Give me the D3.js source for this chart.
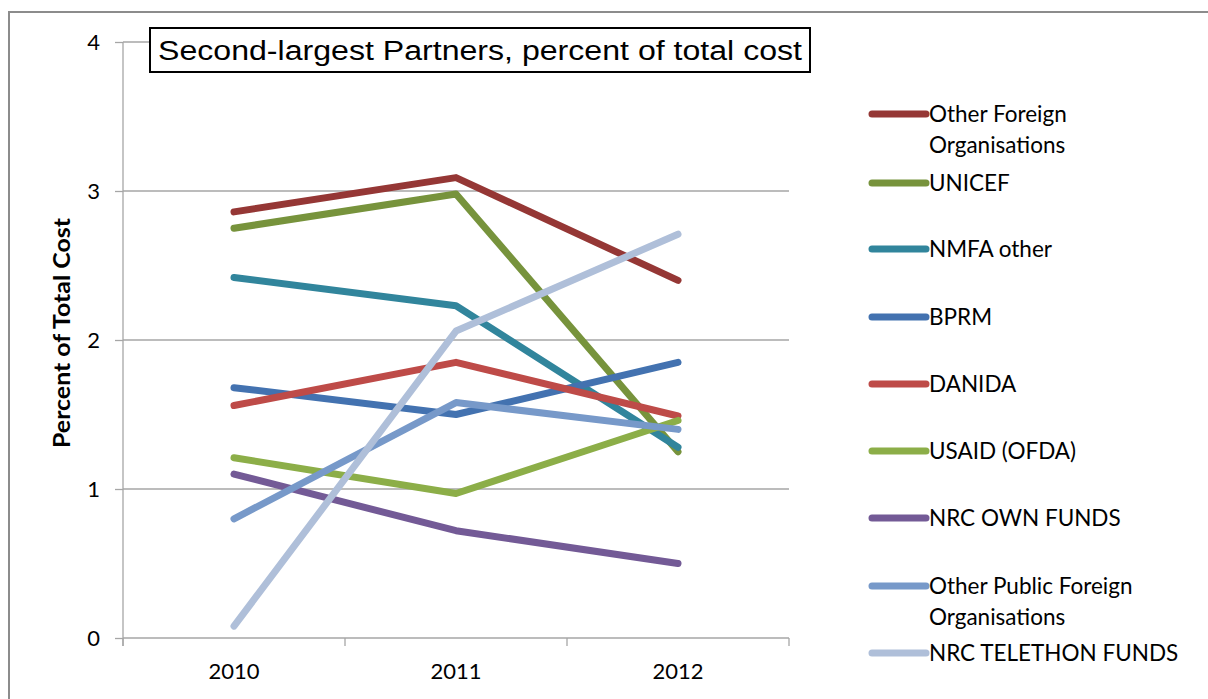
<!DOCTYPE html>
<html><head><meta charset="utf-8">
<script src="https://d3js.org/d3.v7.min.js"></script>
<style>body{margin:0;background:#fff}svg{display:block}</style>
</head><body><svg id="c" width="1208" height="699"></svg>
<script>
const years = ["2010","2011","2012"];
const seriesNames = ["Other Foreign Organisations","UNICEF","NMFA other","BPRM","DANIDA","USAID (OFDA)","NRC OWN FUNDS","Other Public Foreign Organisations","NRC TELETHON FUNDS"];
const otherForeign = [2.86,3.09,2.40];
const unicef = [2.75,2.98,1.25];
const nmfaOther = [2.42,2.23,1.28];
const bprm = [1.68,1.50,1.85];
const danida = [1.56,1.85,1.49];
const usaid = [1.21,0.97,1.46];
const nrcOwn = [1.10,0.72,0.50];
const otherPublic = [0.80,1.58,1.40];
const telethon = [0.08,2.06,2.71];
const yTicks = [0,1,2,3,4];
const colors = ["#953735","#77933C","#31859C","#4372B0","#BE4B48","#8CAE48","#735A96","#7799C9","#AFBFD9"];
const legendLines = [["Other Foreign","Organisations"],["UNICEF"],["NMFA other"],["BPRM"],["DANIDA"],["USAID (OFDA)"],["NRC OWN FUNDS"],["Other Public Foreign","Organisations"],["NRC TELETHON FUNDS"]];
const allValues = [otherForeign,unicef,nmfaOther,bprm,danida,usaid,nrcOwn,otherPublic,telethon];

const svg = d3.select("#c");
const font = "Lato, 'Open Sans', sans-serif";
// outer border
svg.append("rect").attr("x",9).attr("y",12).attr("width",1230).attr("height",720)
  .attr("fill","none").attr("stroke","#8c8c8c").attr("stroke-width",2);

const x = d3.scaleBand().domain(years).range([123,789]);
const y = d3.scaleLinear().domain([0,4]).range([638,42]);

// gridlines
svg.append("g").selectAll("line").data(yTicks.filter(d=>d>0)).join("line")
  .attr("x1",123).attr("x2",789).attr("y1",d=>y(d)).attr("y2",d=>y(d))
  .attr("stroke","#a6a6a6").attr("stroke-width",1.3);

// y axis
const yAxis = d3.axisLeft(y).tickValues(yTicks).tickSize(8).tickPadding(15).tickFormat(d3.format("d"));
const gy = svg.append("g").attr("transform","translate(123,0)").call(yAxis);
gy.select(".domain").attr("stroke","#a6a6a6").attr("stroke-width",1.3).attr("d","M0,42V646");
gy.selectAll(".tick line").attr("stroke","#a6a6a6").attr("stroke-width",1.3);
gy.selectAll(".tick text").attr("font-family",font).attr("font-size",22).attr("fill","#000");

// x axis
const xAxis = d3.axisBottom(x).tickSize(0).tickPadding(25);
const gx = svg.append("g").attr("transform","translate(0,638)").call(xAxis);
gx.select(".domain").attr("stroke","#a6a6a6").attr("stroke-width",1.3).attr("d","M123,0H789");
gx.selectAll(".tick text").attr("font-family",font).attr("font-size",22).attr("fill","#000");
// category separators
const seps = years.map(d=>x(d)).concat([x.range()[1]]);
svg.append("g").selectAll("line").data(seps).join("line")
  .attr("x1",d=>d).attr("x2",d=>d).attr("y1",638).attr("y2",646)
  .attr("stroke","#a6a6a6").attr("stroke-width",1.3);

// lines
const line = d3.line().x((d,i)=>x(years[i])+x.bandwidth()/2).y(d=>y(d));
svg.append("g").selectAll("path").data(allValues).join("path")
  .attr("d",line).attr("fill","none").attr("stroke",(d,i)=>colors[i])
  .attr("stroke-width",7).attr("stroke-linecap","round").attr("stroke-linejoin","round");

// y label
svg.append("text").attr("transform","translate(70,333) rotate(-90)")
  .attr("text-anchor","middle").attr("font-family",font).attr("font-weight","bold")
  .attr("font-size",23).attr("textLength",230).attr("lengthAdjust","spacingAndGlyphs")
  .text("Percent of Total Cost");

// title
svg.append("rect").attr("x",150).attr("y",28).attr("width",660).attr("height",44)
  .attr("fill","#fff").attr("stroke","#000").attr("stroke-width",2);
svg.append("text").attr("x",480).attr("y",60).attr("text-anchor","middle")
  .attr("font-family","'Liberation Sans', Arial, sans-serif").attr("font-size",27)
  .attr("textLength",644).attr("lengthAdjust","spacingAndGlyphs")
  .text("Second-largest Partners, percent of total cost");

// legend
const legY = [114,183,249,317,384,451,518,586,653];
const lg = svg.append("g");
legendLines.forEach((lines,i)=>{
  lg.append("line").attr("x1",872).attr("x2",926).attr("y1",legY[i]).attr("y2",legY[i])
    .attr("stroke",colors[i]).attr("stroke-width",7).attr("stroke-linecap","round");
  const t = lg.append("text").attr("x",929).attr("y",legY[i]+8)
    .attr("font-family",font).attr("font-size",22.5).attr("fill","#000");
  lines.forEach((s,j)=>t.append("tspan").attr("x",929).attr("dy",j?31:0).text(s));
});
</script></body></html>
